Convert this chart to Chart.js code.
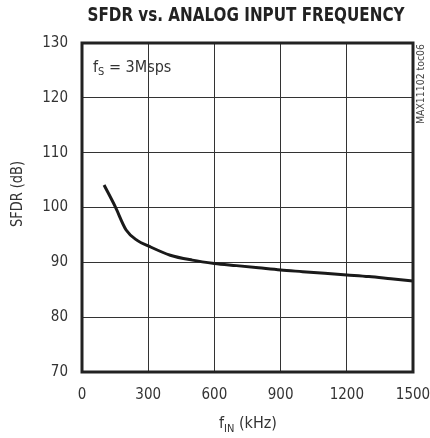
<!DOCTYPE html>
<html>
<head>
<meta charset="utf-8">
<script src="https://cdn.jsdelivr.net/npm/chart.js@4.4.1/dist/chart.umd.min.js"></script>
<style>
html,body{margin:0;padding:0;background:#fff;}
#wrap{width:430px;height:438px;}
</style>
</head>
<body>
<div id="wrap"><canvas id="c" width="430" height="438"></canvas></div>
<script>
// ---- data ----
const freqKHz = [100,150,200,250,300,400,500,600,700,800,900,1000,1100,1200,1300,1400,1500];
const sfdrDB  = [104.1,100.2,95.9,94.0,93.0,91.3,90.4,89.8,89.4,89.0,88.6,88.3,88.0,87.7,87.4,87.0,86.6];
const xTicks = [0,300,600,900,1200,1500];
const yTicks = [70,80,90,100,110,120,130];
const titleText = 'SFDR vs. ANALOG INPUT FREQUENCY';
const yTitle = 'SFDR (dB)';
const noteText = 'MAX11102 toc06';

const FONT = "'Liberation Sans Narrow','DejaVu Sans Condensed','Liberation Sans',Arial,sans-serif";

function drawFit(ctx, text, x, y, font, targetW, align){
  ctx.font = font;
  const w = ctx.measureText(text).width;
  const s = targetW ? targetW / w : 1;
  ctx.save();
  ctx.translate(x, y);
  ctx.scale(s, 1);
  let dx = 0;
  if (align === 'center') dx = -w/2;
  else if (align === 'right') dx = -w;
  ctx.textAlign = 'left';
  ctx.textBaseline = 'alphabetic';
  ctx.fillText(text, dx, 0);
  ctx.restore();
  return w * s;
}

const deco = {
  id: 'deco',
  afterDraw(chart){
    const ctx = chart.ctx, a = chart.chartArea;
    ctx.save();
    ctx.fillStyle = '#222';
    ctx.lineWidth = 3;
    ctx.strokeStyle = '#222';
    ctx.strokeRect(a.left, a.top, a.right - a.left, a.bottom - a.top);
    drawFit(ctx, titleText, 246, 21, "bold 19px " + FONT, 317, 'center');
    ctx.fillStyle = '#333';
    let x = 93;
    ctx.font = "16px " + FONT;
    ctx.textAlign='left'; ctx.textBaseline='alphabetic';
    ctx.fillText('f', x, 72); x += ctx.measureText('f').width;
    ctx.font = "11px " + FONT;
    ctx.fillText('S', x, 75); x += ctx.measureText('S').width;
    ctx.font = "16px " + FONT;
    ctx.fillText(' = 3Msps', x, 72);
    ctx.font = "16px " + FONT;
    const w1 = ctx.measureText('f').width;
    const w3 = ctx.measureText(' (kHz)').width;
    ctx.font = "11px " + FONT;
    const w2 = ctx.measureText('IN').width;
    let xs = 248 - (w1 + w2 + w3)/2;
    ctx.font = "16px " + FONT;
    ctx.fillText('f', xs, 428); xs += w1;
    ctx.font = "11px " + FONT;
    ctx.fillText('IN', xs, 432); xs += w2;
    ctx.font = "16px " + FONT;
    ctx.fillText(' (kHz)', xs, 428);
    ctx.save();
    ctx.translate(22, 194);
    ctx.rotate(-Math.PI/2);
    drawFit(ctx, yTitle, 0, 0, "15px " + FONT, 66, 'center');
    ctx.restore();
    ctx.save();
    ctx.translate(424, 84);
    ctx.rotate(-Math.PI/2);
    ctx.fillStyle = '#444';
    drawFit(ctx, noteText, 0, 0, "10px " + FONT, 80, 'center');
    ctx.restore();
    ctx.restore();
  }
};

new Chart(document.getElementById('c'), {
  type: 'line',
  data: {
    datasets: [{
      data: freqKHz.map((f,i)=>({x:f, y:sfdrDB[i]})),
      borderColor: '#1a1a1a',
      borderWidth: 3,
      pointRadius: 0,
      fill: false,
      cubicInterpolationMode: 'monotone',
      borderCapStyle: 'butt'
    }]
  },
  options: {
    responsive: false,
    animation: false,
    devicePixelRatio: 1,
    layout: { padding: { left: 0, right: 0, top: 43, bottom: 0 } },
    plugins: { legend: {display:false}, tooltip:{enabled:false}, title:{display:false} },
    scales: {
      x: {
        type: 'linear', min: 0, max: 1500,
        afterBuildTicks(s){ s.ticks = xTicks.map(v=>({value:v})); },
        afterFit(s){ s.height = 66; s.paddingRight = 17; },
        grid: { color: '#333', lineWidth: 1, drawTicks: false },
        border: { display: false },
        ticks: { padding: 14, color: '#333', font: { family: FONT, size: 15 }, maxRotation: 0, autoSkip: false,
                 callback: v => String(v) }
      },
      y: {
        type: 'linear', min: 70, max: 130,
        afterBuildTicks(s){ s.ticks = yTicks.map(v=>({value:v})); },
        afterFit(s){ s.width = 82; },
        grid: { color: '#333', lineWidth: 1, drawTicks: false },
        border: { display: false },
        ticks: { padding: 14, color: '#333', font: { family: FONT, size: 15 }, callback: v => String(v) }
      }
    }
  },
  plugins: [deco]
});
</script>
</body>
</html>
